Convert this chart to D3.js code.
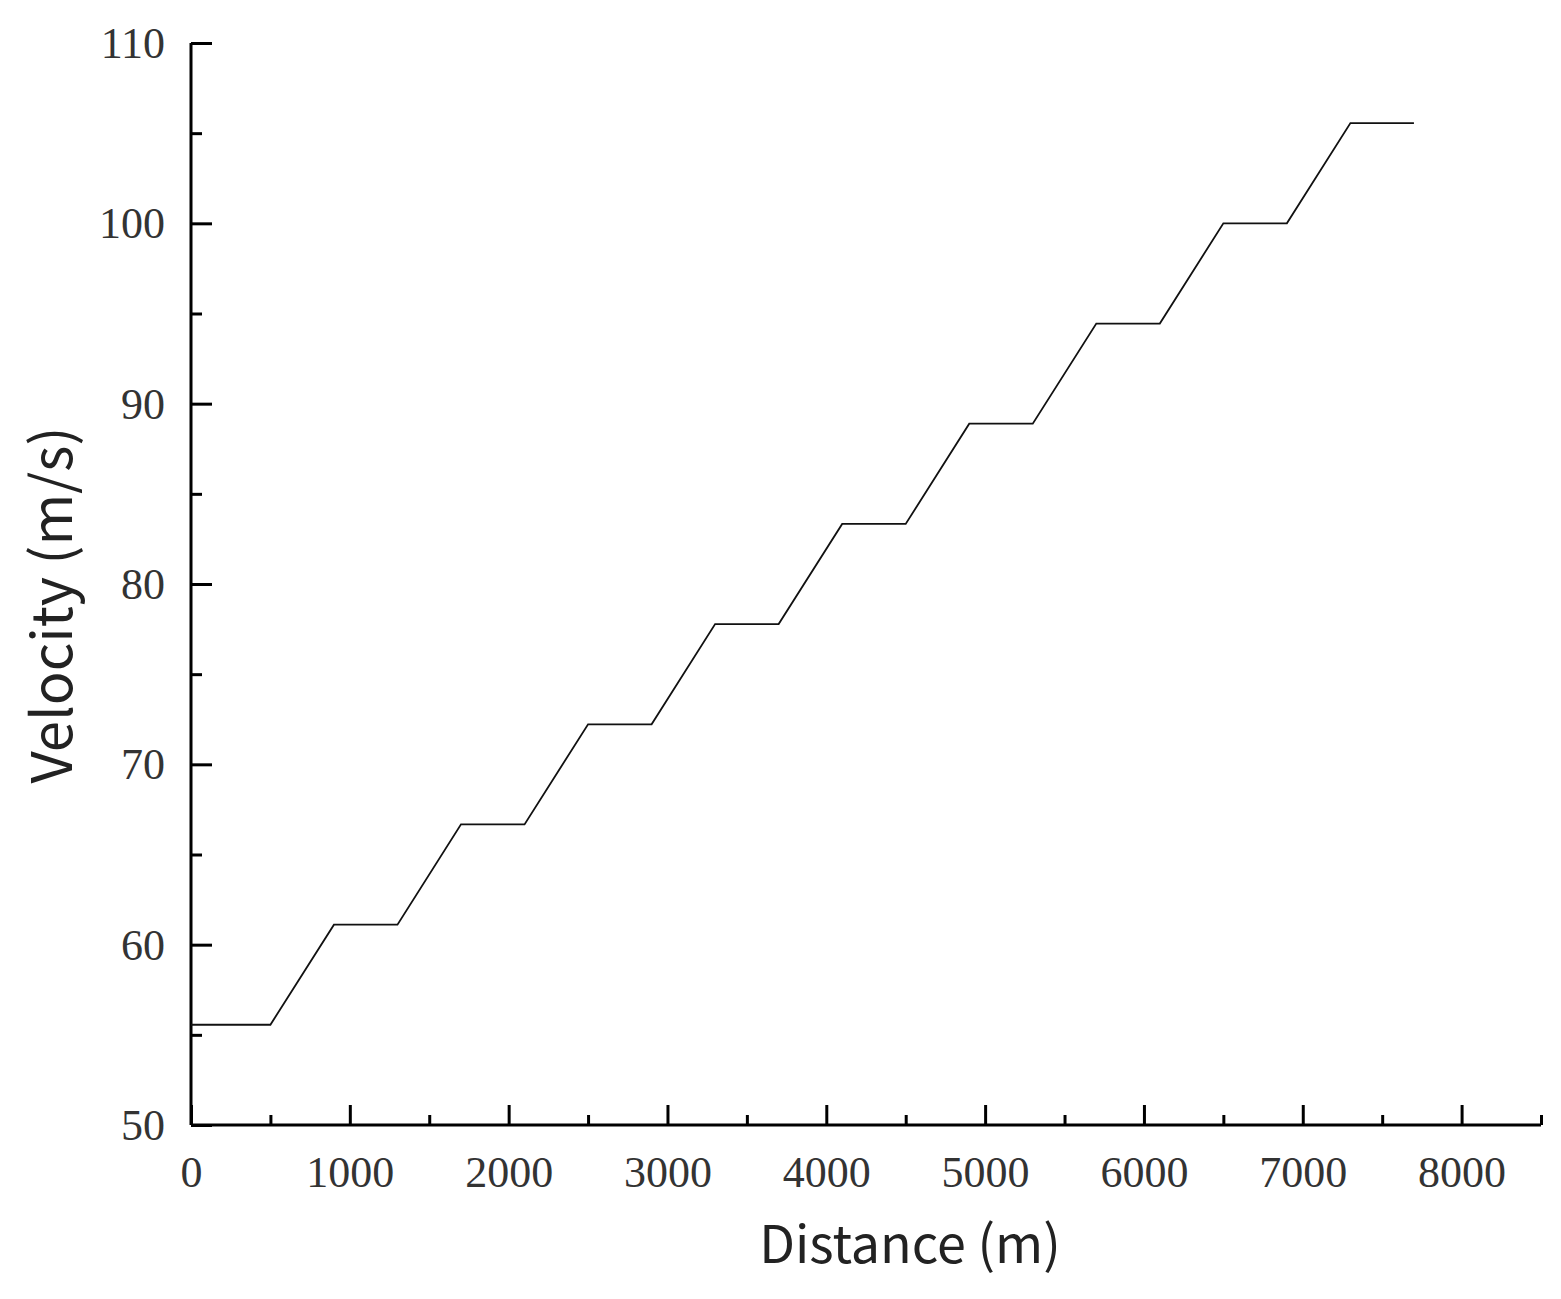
<!DOCTYPE html>
<html><head><meta charset="utf-8">
<script src="https://cdn.jsdelivr.net/npm/d3@7"></script>
<style>body{margin:0;background:#fff}</style>
</head><body>
<svg id="c" width="1561" height="1299"></svg>
<script>
const distance = [0, 500, 900, 1300, 1700, 2100, 2500, 2900, 3300, 3700, 4100, 4500, 4900, 5300, 5700, 6100, 6500, 6900, 7300, 7700];
const velocity = [55.56, 55.56, 61.11, 61.11, 66.67, 66.67, 72.22, 72.22, 77.78, 77.78, 83.33, 83.33, 88.89, 88.89, 94.44, 94.44, 100, 100, 105.56, 105.56];
const xMajorTicks = [0, 1000, 2000, 3000, 4000, 5000, 6000, 7000, 8000];
const yMajorTicks = [50, 60, 70, 80, 90, 100, 110];
const xTitle = "Distance (m)";
const yTitle = "Velocity (m/s)";

const svg = d3.select("#c");
const L = 191, R = 1541, T = 43, B = 1125;
const x = d3.scaleLinear().domain([0, 8500]).range([L, R]);
const y = d3.scaleLinear().domain([50, 110]).range([B, T]);

const xMinor = d3.range(0, 8501, 500).filter(v => v % 1000 !== 0);
const yMinor = d3.range(55, 110, 10);

const serif = "'Liberation Serif','Times New Roman',serif";

// x axis
const gx = svg.append("g").attr("transform", `translate(0,${B})`);
gx.call(d3.axisBottom(x).tickValues(xMajorTicks).tickSize(-20).tickPadding(0).tickFormat(d3.format("d")));
gx.append("g").call(d3.axisBottom(x).tickValues(xMinor).tickSize(-10).tickFormat(""));
gx.selectAll(".domain").attr("stroke", "#000").attr("stroke-width", 3);
gx.selectAll("g g .domain").remove();
gx.selectAll(".tick line").attr("stroke", "#000").attr("stroke-width", 3);
gx.selectAll(".tick text").attr("font-family", serif).attr("font-size", 44).attr("fill", "#333").attr("y", 62).attr("dy", 0);

// y axis
const gy = svg.append("g").attr("transform", `translate(${L},0)`);
gy.call(d3.axisLeft(y).tickValues(yMajorTicks).tickSize(-21).tickPadding(0).tickFormat(d3.format("d")));
gy.append("g").call(d3.axisLeft(y).tickValues(yMinor).tickSize(-11).tickFormat(""));
gy.selectAll(".domain").attr("stroke", "#000").attr("stroke-width", 3);
gy.selectAll("g g .domain").remove();
gy.selectAll(".tick line").attr("stroke", "#000").attr("stroke-width", 3);
gy.selectAll(".tick text").attr("font-family", serif).attr("font-size", 44).attr("fill", "#333").attr("x", -26).attr("dy", "0.33em");
gx.select(".domain").attr("d", `M${L},0H${R}`);
gy.select(".domain").attr("d", `M0,${T}V${B}`);

// line
const line = d3.line().x((d, i) => x(distance[i])).y(d => y(d));
svg.append("path").datum(velocity).attr("d", line)
  .attr("fill", "none").attr("stroke", "#111").attr("stroke-width", 1.8);

// titles
svg.append("text").attr("x", 910).attr("y", 1263).attr("text-anchor", "middle")
  .attr("font-family", "'Noto Sans CJK SC','Noto Sans',sans-serif").attr("font-size", 52).attr("fill", "#222")
  .text(xTitle);
svg.append("text").attr("transform", "translate(72,605) rotate(-90)").attr("text-anchor", "middle")
  .attr("font-family", "'Noto Sans CJK SC','Noto Sans',sans-serif").attr("font-size", 56).attr("fill", "#222")
  .text(yTitle);
</script>
</body></html>
